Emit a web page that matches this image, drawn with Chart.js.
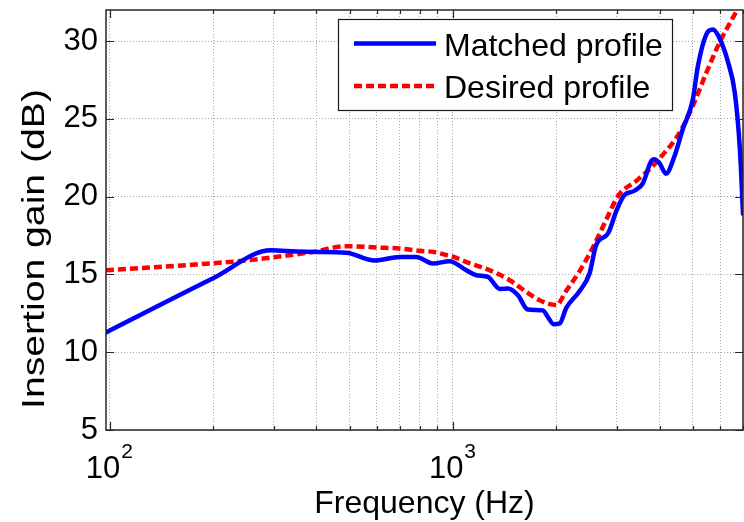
<!DOCTYPE html>
<html><head><meta charset="utf-8">
<script src="https://cdn.jsdelivr.net/npm/chart.js@4"></script>
<style>html,body{margin:0;padding:0;background:#fff}</style>
</head><body>
<canvas id="c" width="744" height="522"></canvas>
<script>
// ---- data ----
const matchedFreq = [97.5, 200, 295, 350, 400, 489, 591, 699, 782, 875, 978, 1094, 1170, 1265, 1368, 1446, 1546, 1653, 1829, 1891, 1965, 2046, 2139, 2337, 2500, 2614, 2830, 2993, 3145, 3378, 3575, 3775, 3860, 4000, 4175, 4414, 4668, 4998, 5170, 5469, 5719, 5975, 6322, 6627, 6858, 7000];
const matchedGain = [11.27, 14.75, 16.55, 16.47, 16.44, 16.4, 15.9, 16.12, 16.12, 15.7, 15.85, 15.27, 14.95, 14.84, 14.07, 14.09, 13.66, 12.74, 12.69, 12.26, 11.8, 11.85, 12.85, 13.92, 15.06, 16.9, 17.64, 19.08, 20.05, 20.38, 20.86, 22.25, 22.4, 22.15, 21.48, 22.57, 24.3, 26.23, 28.38, 30.42, 30.74, 30.2, 28.7, 26.66, 23.0, 18.9];
const desiredFreq = [97.5, 200, 256, 300, 391, 489, 598, 699, 800, 875, 957, 1000, 1100, 1279, 1463, 1636, 1789, 2000, 2139, 2337, 2555, 2795, 3040, 3415, 3815, 4000, 4566, 5000, 5469, 5975, 6700, 7000];
const desiredGain = [15.27, 15.72, 15.92, 16.1, 16.45, 16.82, 16.73, 16.67, 16.52, 16.45, 16.25, 16.15, 15.78, 15.27, 14.63, 13.87, 13.34, 13.03, 13.95, 15.2, 16.72, 18.5, 20.1, 21.0, 21.95, 22.45, 24.08, 25.85, 27.95, 29.89, 31.92, 32.7];
const seriesLabels = ['Matched profile', 'Desired profile'];
const xGridTicks = [100, 200, 300, 400, 500, 600, 700, 800, 900, 1000, 2000, 3000, 4000, 5000, 6000, 7000];
const xLabelTicks = [100, 1000];
const xTickBase = ['10', '10'];
const xTickExp = ['2', '3'];
const yTicks = [5, 10, 15, 20, 25, 30];
const xTitle = 'Frequency (Hz)';
const yTitle = 'Insertion gain (dB)';

const FONT = "'Liberation Sans', Arial, Helvetica, sans-serif";

const framePlugin = {
  id: 'frame',
  afterDraw(chart) {
    const {ctx, chartArea: a, scales: {x, y}} = chart;
    ctx.save();
    // axes box
    ctx.strokeStyle = '#262626';
    ctx.lineWidth = 1.5;
    ctx.strokeRect(a.left, a.top, a.right - a.left, a.bottom - a.top);
    // inward ticks
    ctx.lineWidth = 1.2;
    ctx.beginPath();
    xGridTicks.forEach(v => {
      const px = Math.round(x.getPixelForValue(v)) + 0.5;
      const len = xLabelTicks.includes(v) ? 8 : 4;
      ctx.moveTo(px, a.bottom); ctx.lineTo(px, a.bottom - len);
      ctx.moveTo(px, a.top); ctx.lineTo(px, a.top + len);
    });
    yTicks.forEach(v => {
      const py = Math.round(y.getPixelForValue(v)) + 0.5;
      ctx.moveTo(a.left, py); ctx.lineTo(a.left + 8, py);
      ctx.moveTo(a.right, py); ctx.lineTo(a.right - 8, py);
    });
    ctx.stroke();

    // x tick labels with superscript exponents
    ctx.fillStyle = '#000';
    ctx.textBaseline = 'alphabetic';
    ctx.textAlign = 'left';
    xLabelTicks.forEach((v, i) => {
      const px = x.getPixelForValue(v);
      ctx.font = '31px ' + FONT;
      const w1 = ctx.measureText(xTickBase[i]).width;
      ctx.font = '21px ' + FONT;
      const w2 = ctx.measureText(xTickExp[i]).width;
      const start = px - (w1 + w2) / 2 - 1;
      ctx.font = '31px ' + FONT;
      ctx.fillText(xTickBase[i], start, 478);
      ctx.font = '21px ' + FONT;
      ctx.fillText(xTickExp[i], start + w1 + 1, 458);
    });

    // y axis title (rotated)
    ctx.save();
    ctx.font = '31px ' + FONT;
    const tw = ctx.measureText(yTitle).width;
    const s = 320 / tw;
    ctx.translate(43.5, 249);
    ctx.rotate(-Math.PI / 2);
    ctx.scale(s, 1);
    ctx.textAlign = 'center';
    ctx.fillText(yTitle, 0, 0);
    ctx.restore();

    // legend box
    const lg = {l: 338.5, t: 19.5, r: 672.5, b: 110.5};
    ctx.fillStyle = '#fff';
    ctx.fillRect(lg.l, lg.t, lg.r - lg.l, lg.b - lg.t);
    ctx.strokeStyle = '#1a1a1a';
    ctx.lineWidth = 1.2;
    ctx.strokeRect(lg.l, lg.t, lg.r - lg.l, lg.b - lg.t);
    const rows = [43.5, 86];
    chart.data.datasets.forEach((ds, i) => {
      const ry = rows[i];
      ctx.save();
      ctx.strokeStyle = ds.borderColor;
      ctx.lineWidth = ds.borderWidth;
      ctx.setLineDash(ds.borderDash || []);
      ctx.lineCap = 'butt';
      ctx.beginPath();
      ctx.moveTo(354, ry); ctx.lineTo(436, ry);
      ctx.stroke();
      ctx.restore();
      ctx.fillStyle = '#000';
      ctx.font = '32px ' + FONT;
      ctx.textAlign = 'left';
      ctx.textBaseline = 'alphabetic';
      ctx.fillText(ds.label, 444, ry + 12);
    });
    ctx.restore();
  }
};

const toPts = (fx, gy) => fx.map((f, i) => ({x: f, y: gy[i]}));

new Chart(document.getElementById('c'), {
  type: 'line',
  data: {
    datasets: [
      {
        label: seriesLabels[0],
        data: toPts(matchedFreq, matchedGain),
        borderColor: '#0000ff',
        borderWidth: 4.5,
        pointRadius: 0,
        cubicInterpolationMode: 'monotone',
        borderJoinStyle: 'round',
        borderCapStyle: 'round',
        fill: false
      },
      {
        label: seriesLabels[1],
        data: toPts(desiredFreq, desiredGain),
        borderColor: '#ff0000',
        borderWidth: 4.5,
        borderDash: [8, 4],
        pointRadius: 0,
        cubicInterpolationMode: 'monotone',
        borderJoinStyle: 'miter',
        borderCapStyle: 'butt',
        fill: false
      }
    ]
  },
  options: {
    responsive: false,
    animation: false,
    events: [],
    layout: {padding: {top: 10, right: 1, left: 0, bottom: 0}},
    plugins: {legend: {display: false}, tooltip: {enabled: false}},
    scales: {
      x: {
        type: 'logarithmic',
        min: 97.5,
        max: 7000,
        bounds: 'data',
        afterBuildTicks: s => { s.ticks = xGridTicks.map(v => ({value: v})); },
        afterFit: s => { s.height = 92; s.paddingLeft = 0; s.paddingRight = 0; s.paddingTop = 0; s.paddingBottom = 0; },
        ticks: {display: false},
        grid: {color: '#a8a8a8', lineWidth: 1, drawTicks: false},
        border: {display: false, dash: [1, 2]},
        title: {display: true, text: xTitle, color: '#000', padding: 0,
                font: {family: FONT, size: 32, lineHeight: 1.1}}
      },
      y: {
        type: 'linear',
        min: 5,
        max: 32,
        bounds: 'data',
        afterBuildTicks: s => { s.ticks = yTicks.map(v => ({value: v})); },
        afterFit: s => { s.width = 106; s.paddingTop = 0; s.paddingBottom = 0; s.paddingLeft = 0; s.paddingRight = 0; },
        ticks: {color: '#000', padding: 8, font: {family: FONT, size: 31}},
        grid: {color: '#a8a8a8', lineWidth: 1, drawTicks: false},
        border: {display: false, dash: [1, 2]}
      }
    }
  },
  plugins: [framePlugin]
});
</script>
</body></html>
